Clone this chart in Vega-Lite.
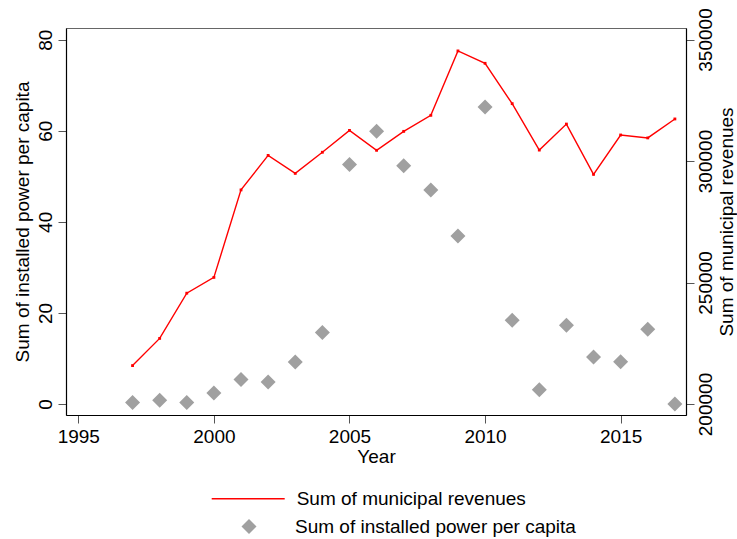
{
  "$schema": "https://vega.github.io/schema/vega-lite/v6.json",
  "width": 620,
  "height": 387,
  "autosize": {"type": "none"},
  "padding": {"left": 66, "top": 28, "right": 51, "bottom": 124},
  "background": "white",
  "config": {
    "view": {"stroke": "#666666", "strokeWidth": 1},
    "font": "Liberation Sans",
    "axis": {
      "labelFont": "Liberation Sans",
      "titleFont": "Liberation Sans",
      "labelFontSize": 19,
      "titleFontSize": 19,
      "titleFontWeight": "normal",
      "labelColor": "#000000",
      "titleColor": "#000000",
      "domainColor": "#000000",
      "domainWidth": 1.2,
      "tickColor": "#555555",
      "tickWidth": 1,
      "tickSize": 8,
      "grid": false,
      "labelFlush": false,
      "labelOverlap": false
    },
    "legend": {
      "labelFont": "Liberation Sans",
      "labelFontSize": 19,
      "labelColor": "#000000",
      "labelLimit": 0,
      "padding": 0
    }
  },
  "data": {
    "values": [
      {"year": 1997, "revenue": 215800, "power": 0.3},
      {"year": 1998, "revenue": 227000, "power": 0.8},
      {"year": 1999, "revenue": 245600, "power": 0.3},
      {"year": 2000, "revenue": 252100, "power": 2.4},
      {"year": 2001, "revenue": 288100, "power": 5.4},
      {"year": 2002, "revenue": 302300, "power": 4.8},
      {"year": 2003, "revenue": 294900, "power": 9.2},
      {"year": 2004, "revenue": 303600, "power": 15.7},
      {"year": 2005, "revenue": 312600, "power": 52.6},
      {"year": 2006, "revenue": 304400, "power": 59.9},
      {"year": 2007, "revenue": 312200, "power": 52.3},
      {"year": 2008, "revenue": 318800, "power": 47.0},
      {"year": 2009, "revenue": 345300, "power": 36.9},
      {"year": 2010, "revenue": 340200, "power": 65.2},
      {"year": 2011, "revenue": 323600, "power": 18.4},
      {"year": 2012, "revenue": 304500, "power": 3.1},
      {"year": 2013, "revenue": 315200, "power": 17.3},
      {"year": 2014, "revenue": 294500, "power": 10.3},
      {"year": 2015, "revenue": 310700, "power": 9.3},
      {"year": 2016, "revenue": 309500, "power": 16.4},
      {"year": 2017, "revenue": 317300, "power": 0.0}
    ]
  },
  "encoding": {
    "x": {
      "field": "year",
      "type": "quantitative",
      "scale": {"domain": [1994.546, 2017.41], "nice": false, "zero": false},
      "axis": {
        "title": "Year",
        "values": [1995, 2000, 2005, 2010, 2015],
        "format": "d",
        "labelPadding": 4,
        "titlePadding": 1
      }
    }
  },
  "layer": [
    {
      "mark": {"type": "point", "filled": true, "color": "#a0a0a0", "opacity": 1, "size": 225, "strokeWidth": 0},
      "encoding": {
        "y": {
          "field": "power",
          "type": "quantitative",
          "scale": {"domain": [-2.42, 82.57], "nice": false, "zero": false},
          "axis": {
            "orient": "left",
            "title": "Sum of installed power per capita",
            "values": [0, 20, 40, 60, 80],
            "labelAngle": -90,
            "labelAlign": "center",
            "labelBaseline": "alphabetic",
            "labelPadding": 7,
            "titlePadding": 4
          }
        },
        "shape": {
          "datum": "Sum of installed power per capita",
          "scale": {"range": ["diamond"]},
          "legend": {
            "title": null,
            "orient": "none",
            "legendX": 173.5,
            "legendY": 489,
            "symbolSize": 225,
            "symbolFillColor": "#a0a0a0",
            "symbolStrokeColor": "#a0a0a0",
            "symbolStrokeWidth": 0,
            "labelOffset": 36.5
          }
        }
      }
    },
    {
      "encoding": {
        "y": {
          "field": "revenue",
          "type": "quantitative",
          "scale": {"domain": [195473, 354733], "nice": false, "zero": false},
          "axis": {
            "orient": "right",
            "title": "Sum of municipal revenues",
            "values": [200000, 250000, 300000, 350000],
            "format": "d",
            "labelAngle": -90,
            "labelAlign": "center",
            "labelBaseline": "top",
            "labelPadding": 2,
            "titleAngle": -90,
            "titleBaseline": "top",
            "titlePadding": 2
          }
        }
      },
      "layer": [
        {
          "mark": {"type": "line", "strokeWidth": 1.4},
          "encoding": {
            "stroke": {
              "datum": "Sum of municipal revenues",
              "scale": {"range": ["#ff0000"]},
              "legend": {
                "title": null,
                "orient": "none",
                "legendX": 144.7,
                "legendY": 433.2,
                "symbolType": "stroke",
                "symbolSize": 5329,
                "symbolStrokeWidth": 1.6,
                "labelOffset": 11
              }
            }
          }
        },
        {
          "mark": {"type": "point", "shape": "square", "filled": true, "color": "#ff0000", "opacity": 1, "size": 8, "strokeWidth": 0},
          "encoding": {}
        }
      ]
    }
  ],
  "resolve": {"scale": {"y": "independent"}}
}
